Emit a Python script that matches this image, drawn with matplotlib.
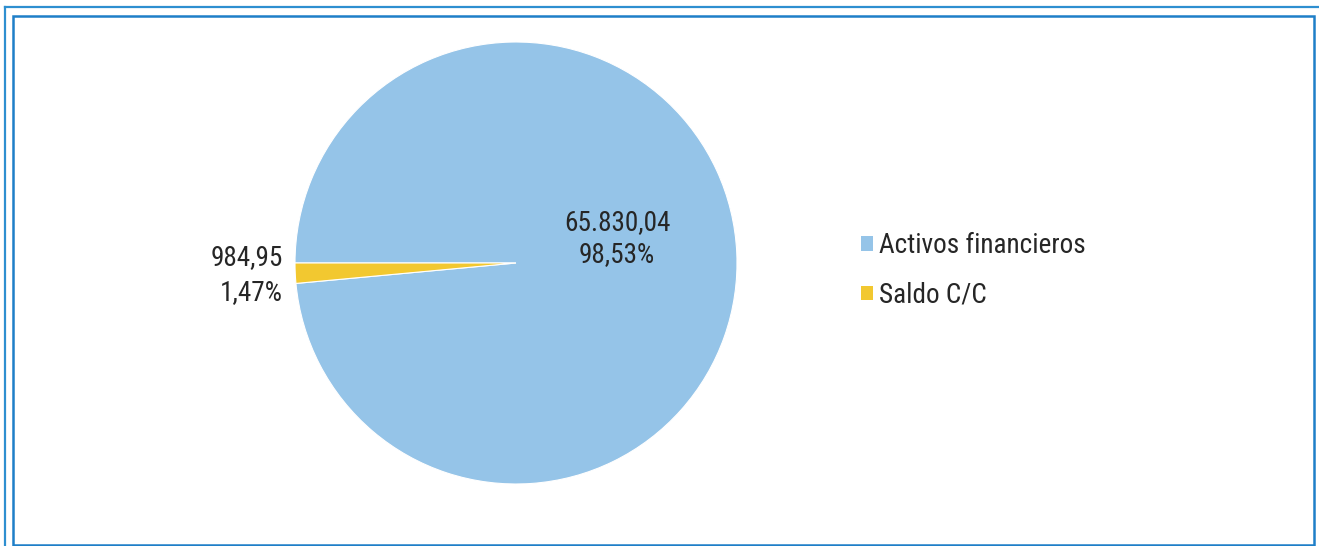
import matplotlib
matplotlib.use("Agg")
import matplotlib.pyplot as plt
from matplotlib.patches import Rectangle, Patch
from matplotlib.lines import Line2D

categories = ["Activos financieros", "Saldo C/C"]
values = [65830.04, 984.95]
value_labels = ["65.830,04", "984,95"]
pct_labels = ["98,53%", "1,47%"]
colors = ["#95C4E8", "#F2C830"]

plt.rcParams["font.family"] = ["Roboto Condensed", "Roboto", "DejaVu Sans"]
txt_color = "#262626"
fs = 19.6

W, H = 1319, 546
fig = plt.figure(figsize=(W / 100, H / 100), dpi=100)

# borders
fig.add_artist(Line2D([5 / W, 1], [1 - 7 / H, 1 - 7 / H], color="#2E8FD0", lw=1.6, transform=fig.transFigure))
fig.add_artist(Line2D([5 / W, 5 / W], [1 - 7 / H, 0], color="#2E8FD0", lw=1.6, transform=fig.transFigure))
fig.add_artist(Rectangle((13 / W, 1 / H), (1314 - 13) / W, (545 - 16) / H, fill=False,
                         ec="#1E7FC8", lw=1.8, transform=fig.transFigure))

cx, cy, r = 516, 263, 221
ax = fig.add_axes([(cx - r) / W, (H - cy - r) / H, 2 * r / W, 2 * r / H])
total = sum(values)
start = 180 + 360 * values[1] / total
wedges, _ = ax.pie(values, colors=colors, startangle=start, counterclock=True,
                   wedgeprops=dict(edgecolor="white", linewidth=0.8))
ax.set_xlim(-1, 1)
ax.set_ylim(-1, 1)
ax.set_aspect("equal")

# data labels (two lines each)
ax.text(0.457, 0.149, value_labels[0], ha="center", va="baseline", fontsize=fs, color=txt_color)
ax.text(0.457, 0.005, pct_labels[0], ha="center", va="baseline", fontsize=fs, color=txt_color)
ax.text(-1.054, -0.010, value_labels[1], ha="right", va="baseline", fontsize=fs, color=txt_color)
ax.text(-1.054, -0.168, pct_labels[1], ha="right", va="baseline", fontsize=fs, color=txt_color)

handles = [Patch(facecolor=c, edgecolor="none") for c in colors]
fig.legend(handles, categories, loc="upper left", bbox_to_anchor=(861 / W, 1 - 232 / H),
           frameon=False, fontsize=fs, handlelength=0.45, handleheight=0.45,
           handletextpad=0.2, labelspacing=0.84, labelcolor=txt_color, borderpad=0,
           borderaxespad=0)

fig.savefig("out.png", dpi=100)
